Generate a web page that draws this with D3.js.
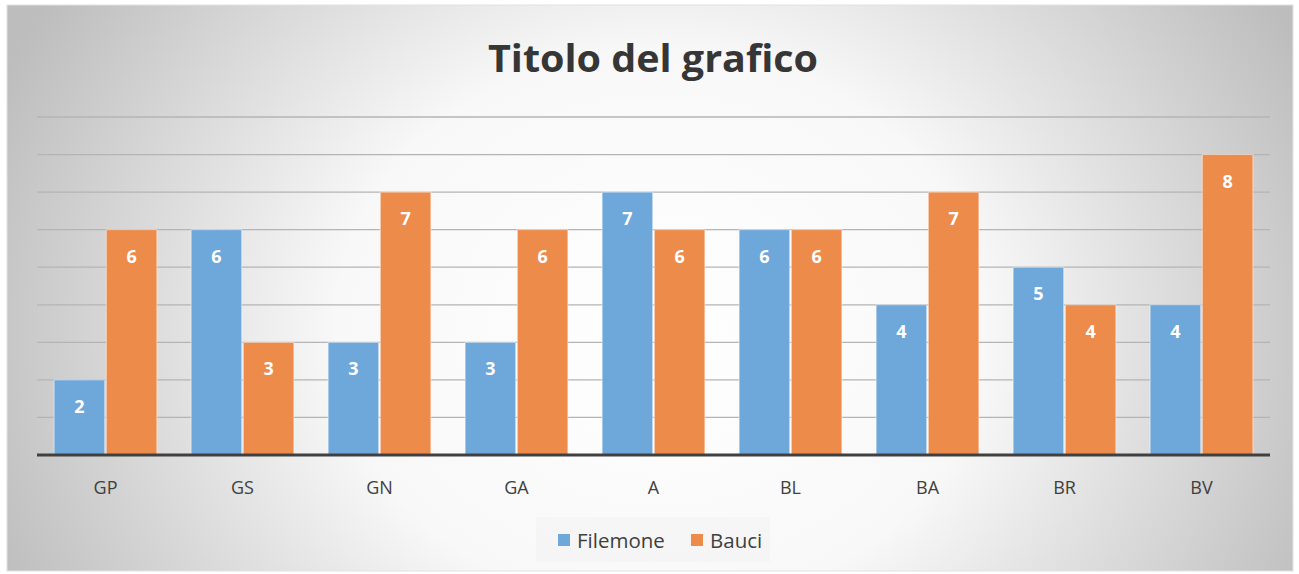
<!DOCTYPE html>
<html><head><meta charset="utf-8">
<script src="https://cdn.jsdelivr.net/npm/d3@7"></script>
<style>html,body{margin:0;padding:0;background:#fff;}svg{display:block;}</style>
</head><body>
<script>
const categories = ["GP","GS","GN","GA","A","BL","BA","BR","BV"];
const filemone = [2,6,3,3,7,6,4,5,4];
const bauci = [6,3,7,6,6,6,7,4,8];
const seriesNames = ["Filemone","Bauci"];
const yTicks = [1,2,3,4,5,6,7,8,9];
const title = "Titolo del grafico";

const W = 1299, H = 574;
const svg = d3.select("body").append("svg").attr("width", W).attr("height", H);
const defs = svg.append("defs");
const rg = defs.append("radialGradient").attr("id","bg")
  .attr("gradientUnits","userSpaceOnUse")
  .attr("cx",0).attr("cy",0).attr("r",1)
  .attr("gradientTransform","translate(660,330) scale(720,620)");
rg.append("stop").attr("offset","0%").attr("stop-color","#ffffff");
rg.append("stop").attr("offset","45%").attr("stop-color","#f8f8f8");
rg.append("stop").attr("offset","100%").attr("stop-color","#bdbdbd");

svg.append("rect").attr("x",0).attr("y",0).attr("width",W).attr("height",H).attr("fill","#ffffff");
svg.append("rect").attr("x",7).attr("y",5).attr("width",1286).attr("height",566)
  .attr("fill","url(#bg)").attr("stroke","#e2e2e2").attr("stroke-width",1);

const x0 = d3.scaleBand().domain(categories).range([37,1270]).paddingInner(0.25).paddingOuter(0.125);
const x1 = d3.scaleBand().domain(seriesNames).range([0, x0.bandwidth()]).paddingInner(0.03);
const y = d3.scaleLinear().domain([0,9]).range([455,117]);
const colors = {"Filemone":"#6ea7da","Bauci":"#ed8b4a"};

// gridlines
svg.append("g").selectAll("line").data(yTicks).join("line")
  .attr("x1",37).attr("x2",1270).attr("y1",d=>y(d)).attr("y2",d=>y(d))
  .attr("stroke","#b4b4b4").attr("stroke-width",1.3);

// title
svg.append("text").attr("x",653).attr("y",72).attr("text-anchor","middle")
  .attr("font-family","Open Sans, sans-serif").attr("font-weight","bold")
  .attr("font-size",37).attr("fill","#363636").attr("textLength",330).attr("lengthAdjust","spacingAndGlyphs")
  .text(title);

const rows = categories.map((c,i)=>({cat:c, vals:[{s:"Filemone",v:filemone[i]},{s:"Bauci",v:bauci[i]}]}));
const g = svg.append("g").selectAll("g").data(rows).join("g")
  .attr("transform", d=>`translate(${x0(d.cat)},0)`);
g.selectAll("rect").data(d=>d.vals).join("rect")
  .attr("x", d=>x1(d.s)).attr("width", x1.bandwidth())
  .attr("y", d=>y(d.v)).attr("height", d=>y(0)-y(d.v))
  .attr("fill", d=>colors[d.s]).attr("stroke","rgba(255,255,255,0.5)").attr("stroke-width",1);
g.selectAll("text").data(d=>d.vals).join("text")
  .attr("x", d=>x1(d.s)+x1.bandwidth()/2).attr("y", d=>y(d.v)+33)
  .attr("text-anchor","middle").attr("font-family","Open Sans, sans-serif")
  .attr("font-weight","bold").attr("font-size",18).attr("fill","#ffffff")
  .text(d=>d.v);

// baseline
svg.append("line").attr("x1",37).attr("x2",1270).attr("y1",455).attr("y2",455)
  .attr("stroke","#404040").attr("stroke-width",3);

// x axis labels
const xAxis = d3.axisBottom(x0).tickSize(0).tickPadding(0);
const ax = svg.append("g").attr("transform","translate(0,481)").call(xAxis);
ax.select(".domain").remove();
ax.selectAll("text").attr("font-family","Open Sans, sans-serif").attr("font-size",18)
  .attr("fill","#404040").attr("dy","0.71em");

// legend
const lg = svg.append("g");
lg.append("rect").attr("x",536).attr("y",517).attr("width",234).attr("height",45).attr("fill","#f3f3f3").attr("fill-opacity",0.7);
const items = [{s:"Filemone",x:558},{s:"Bauci",x:691}];
items.forEach(it=>{
  lg.append("rect").attr("x",it.x).attr("y",534).attr("width",12).attr("height",12).attr("fill",colors[it.s]);
  lg.append("text").attr("x",it.x+19).attr("y",548).attr("font-family","Open Sans, sans-serif")
    .attr("font-size",20.5).attr("fill","#404040").text(it.s);
});
</script>
</body></html>
